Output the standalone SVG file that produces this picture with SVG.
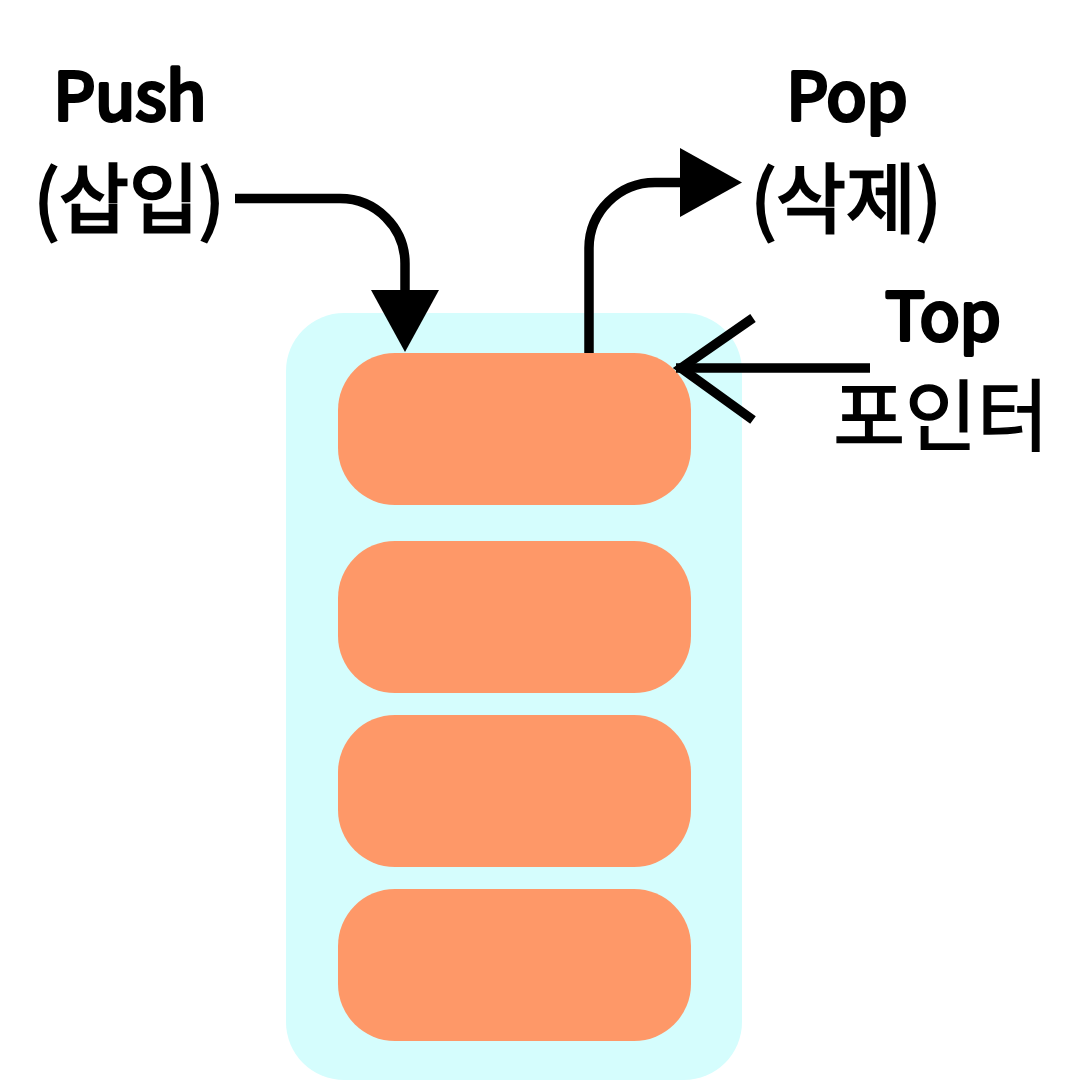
<svg xmlns="http://www.w3.org/2000/svg" width="1080" height="1080" viewBox="0 0 1080 1080">
<style>
.bg{fill:#d5fdfd}
.item{fill:#fe9868}
.lat{font-family:"Noto Sans CJK KR",sans-serif;font-weight:400;font-size:66px;fill:#000;stroke:#000;stroke-width:4;stroke-linejoin:round;text-anchor:middle}
.kor{font-family:"Noto Sans CJK KR",sans-serif;font-weight:400;font-size:76px;fill:#000;stroke:#000;stroke-width:2.5;text-anchor:middle}
.kor2{font-family:"Noto Sans CJK KR",sans-serif;font-weight:400;font-size:78px;fill:#000;stroke:#000;stroke-width:1.5;text-anchor:middle}
.line{fill:none;stroke:#000;stroke-width:9.5}
</style>
<rect width="1080" height="1080" fill="#fff"/>
<g id="stack">
<rect class="bg" x="286" y="313" width="456" height="767" rx="58"/>
</g>
<g id="item1"><rect class="item" x="338" y="353" width="353" height="152" rx="57"/></g>
<g id="item2"><rect class="item" x="338" y="541" width="353" height="152" rx="57"/></g>
<g id="item3"><rect class="item" x="338" y="715" width="353" height="152" rx="57"/></g>
<g id="item4"><rect class="item" x="338" y="889" width="353" height="152" rx="57"/></g>
<g id="connectors">
<path class="line" d="M235 198.5 H340 A65 65 0 0 1 405 263.5 V292"/>
<polygon points="371,290 439,290 405,352" fill="#000"/>
<path class="line" d="M589 353 V248 A66 66 0 0 1 655 182.5 H682"/>
<polygon points="680,148 680,217 742,182.5" fill="#000"/>
<path class="line" d="M870 368 H676"/>
<path class="line" d="M753 318 L681 368 L753 420" stroke-linejoin="miter"/>
</g>
<g id="push-label">
<text class="lat" x="130" y="120">Push</text>
<text class="kor" x="129" y="227">(삽입)</text>
</g>
<g id="pop-label">
<text class="lat" x="847" y="120">Pop</text>
<text class="kor" x="846" y="227">(삭제)</text>
</g>
<g id="top-label">
<text class="lat" x="943" y="340">Top</text>
<text class="kor2" x="941" y="445">포인터</text>
</g>
</svg>
